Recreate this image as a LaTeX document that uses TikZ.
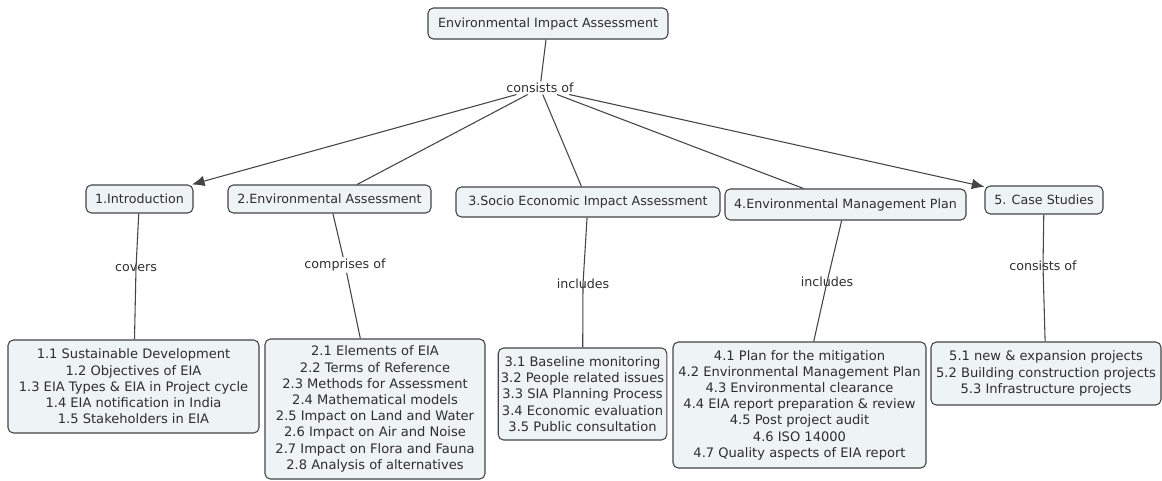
\documentclass[tikz,border=0pt]{standalone}
\usepackage{fontspec}
\setmainfont{DejaVu Sans}
\usetikzlibrary{arrows.meta}
\definecolor{boxfill}{HTML}{EEF3F5}
\definecolor{edgegray}{HTML}{444444}
\definecolor{inkgray}{HTML}{2E2E2E}
\tikzset{
  concept/.style={draw=edgegray,fill=boxfill,rounded corners=4pt,line width=0.8pt,
    align=center,text=inkgray,inner sep=2pt,font=\fontsize{9.5}{12.15}\selectfont},
  sublist/.style={concept,font=\fontsize{9.8}{12.15}\selectfont},
  linkword/.style={text=inkgray,inner sep=1pt,font=\fontsize{9.5}{10}\selectfont},
  link/.style={draw=edgegray,line width=0.8pt},
  tip/.style={-{Latex[length=9.5pt,width=8pt]}}
}
\begin{document}
\begin{tikzpicture}[x=0.75pt,y=-0.75pt]
  \useasboundingbox (0,0) rectangle (1162,480);

  \node[concept,minimum width=180pt,minimum height=23.25pt] (eia) at (548,23.5) {Environmental Impact Assessment};
  \node[linkword] (cons) at (540,88) {consists of};

  \node[concept,minimum width=80.25pt,minimum height=21pt] (intro) at (139.5,199) {1.Introduction};
  \node[concept,minimum width=152.25pt,minimum height=21pt] (ea) at (329.5,199) {2.Environmental Assessment};
  \node[concept,minimum width=198pt,minimum height=22.5pt] (seia) at (588,202) {3.Socio Economic Impact Assessment};
  \node[concept,minimum width=180.75pt,minimum height=23.25pt] (emp) at (845.5,204.5) {4.Environmental Management Plan};
  \node[concept,minimum width=88.5pt,minimum height=21pt] (cs) at (1044,200) {5. Case Studies};

  \node[linkword] (covers) at (136,268) {covers};
  \node[linkword] (comp) at (345,265) {comprises of};
  \node[linkword] (incl3) at (583,284) {includes};
  \node[linkword] (incl4) at (827,282) {includes};
  \node[linkword] (cons5) at (1043,266) {consists of};

  \node[sublist,minimum width=188.25pt,minimum height=69.75pt] (intro list) at (133.5,386.5)
    {1.1 Sustainable Development\\1.2 Objectives of EIA\\1.3 EIA Types \& EIA in Project cycle\\1.4 EIA notification in India\\1.5 Stakeholders in EIA};
  \node[sublist,minimum width=165pt,minimum height=105pt] (ea list) at (375,409)
    {2.1 Elements of EIA\\2.2 Terms of Reference\\2.3 Methods for Assessment\\2.4 Mathematical models\\2.5 Impact on Land and Water\\2.6 Impact on Air and Noise\\2.7 Impact on Flora and Fauna\\2.8 Analysis of alternatives};
  \node[sublist,minimum width=125.25pt,minimum height=69pt] (seia list) at (582.5,394)
    {3.1 Baseline monitoring\\3.2 People related issues\\3.3 SIA Planning Process\\3.4 Economic evaluation\\3.5 Public consultation};
  \node[sublist,minimum width=189.75pt,minimum height=94.5pt] (emp list) at (799.5,405)
    {4.1 Plan for the mitigation\\4.2 Environmental Management Plan\\4.3 Environmental clearance\\4.4 EIA report preparation \& review\\4.5 Post project audit\\4.6 ISO 14000\\4.7 Quality aspects of EIA report};
  \node[sublist,minimum width=172.5pt,minimum height=47.25pt] (cs list) at (1046,373.5)
    {5.1 new \& expansion projects\\5.2 Building construction projects\\5.3 Infrastructure projects};

  \draw[link] (eia) -- (cons);
  \draw[link,tip] (cons) -- (intro);
  \draw[link] (cons) -- (ea);
  \draw[link] (cons) -- (seia);
  \draw[link] (cons) -- (emp);
  \draw[link,tip] (cons) -- (cs);

  \draw[link] (intro) -- (covers.center) -- (intro list);
  \draw[link] (ea) -- (comp) -- (ea list);
  \draw[link] (seia) -- (incl3.center) -- (seia list);
  \draw[link] (emp) -- (incl4.center) -- (emp list);
  \draw[link] (cs) -- (cons5.center) -- (cs list);
\end{tikzpicture}
\end{document}
